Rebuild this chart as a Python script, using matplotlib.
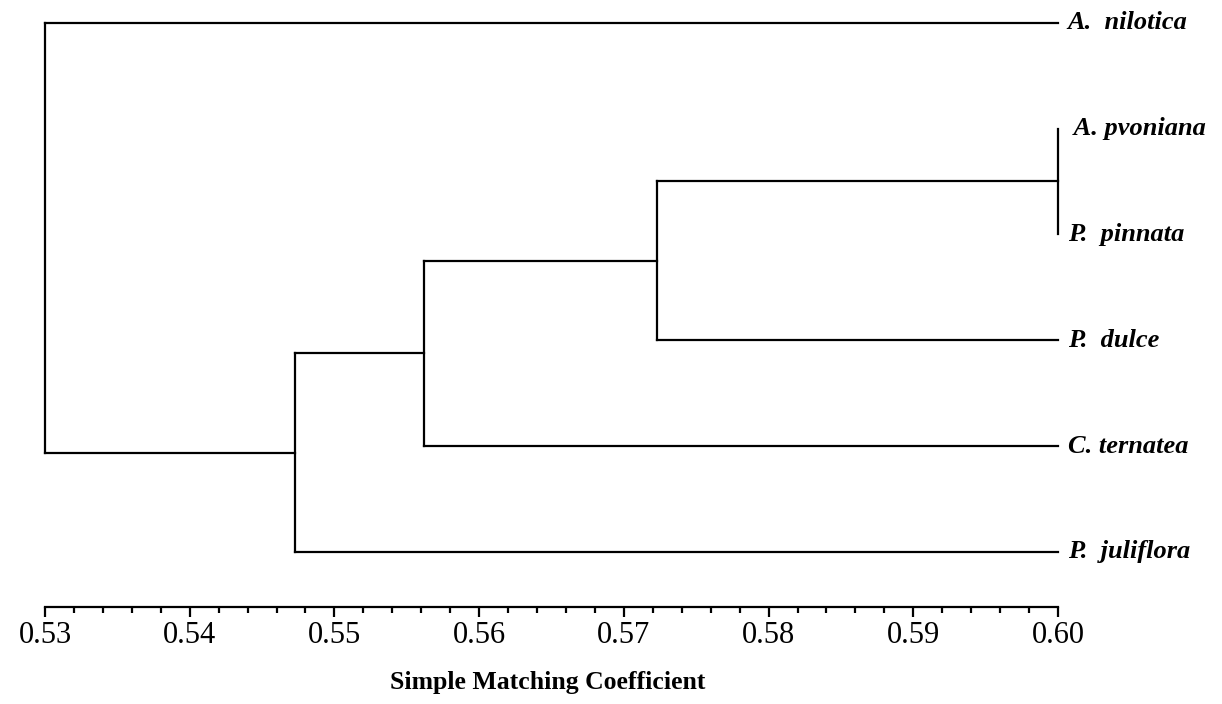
import matplotlib
matplotlib.use("Agg")
import matplotlib.pyplot as plt
from matplotlib.ticker import MultipleLocator

# leaves, top to bottom
labels = ["A.  nilotica", " A. pvoniana", "P.  pinnata", "P.  dulce", "C. ternatea", "P.  juliflora"]
leaf_level = 0.60

# merges: (cluster a, cluster b, coefficient); new clusters numbered from len(labels)
merge_a = [1, 6, 7, 8, 0]
merge_b = [2, 3, 4, 5, 9]
merge_h = [0.600, 0.5723, 0.5562, 0.5473, 0.530]

plt.rcParams["font.family"] = ["Liberation Serif", "DejaVu Serif"]

fig = plt.figure(figsize=(12.22, 7.04), dpi=100)
ax = fig.add_axes([45 / 1222, 1 - 607 / 704, 1013 / 1222, 0.860])

ypos = {i: float(i) for i in range(len(labels))}
xpos = {i: leaf_level for i in range(len(labels))}

for k, (a, b, h) in enumerate(zip(merge_a, merge_b, merge_h)):
    new = len(labels) + k
    for c in (a, b):
        ax.plot([xpos[c], h], [ypos[c], ypos[c]], color="black", lw=1.6, clip_on=False,
                solid_capstyle="projecting")
    ax.plot([h, h], [ypos[a], ypos[b]], color="black", lw=1.6, clip_on=False,
            solid_capstyle="projecting")
    ypos[new] = (ypos[a] + ypos[b]) / 2
    xpos[new] = h

for i, lab in enumerate(labels):
    ax.annotate(lab, (leaf_level, i), xytext=(7, 0), textcoords="offset points",
                ha="left", va="center", fontsize=19, fontweight="bold", style="italic",
                annotation_clip=False)

ax.set_xlim(0.53, 0.60)
ax.set_ylim(5.52, -0.2)
for s in ["top", "right", "left"]:
    ax.spines[s].set_visible(False)
ax.spines["bottom"].set_linewidth(1.6)
ax.set_yticks([])
ax.xaxis.set_major_locator(MultipleLocator(0.01))
ax.xaxis.set_minor_locator(MultipleLocator(0.002))
ax.xaxis.set_major_formatter(plt.FormatStrFormatter("%.2f"))
ax.tick_params(axis="x", which="major", direction="out", length=7, width=1.6,
               labelsize=22, pad=3)
ax.tick_params(axis="x", which="minor", direction="out", length=4, width=1.6)

fig.text(548 / 1222, 1 - 682 / 704, "Simple Matching Coefficient", ha="center", va="center",
         fontsize=18.5, fontweight="bold")

fig.savefig("out.png", dpi=100)
